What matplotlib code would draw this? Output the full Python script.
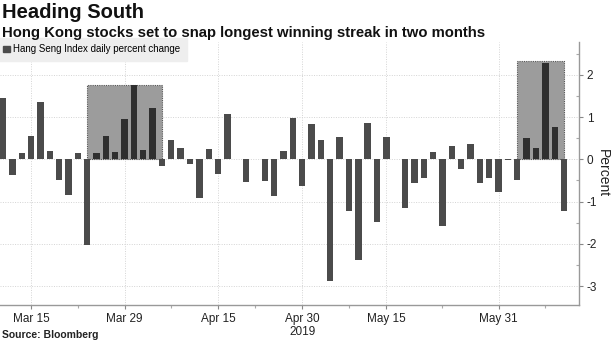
import numpy as np
import pandas as pd
import matplotlib
matplotlib.use("Agg")
import matplotlib.pyplot as plt
from matplotlib.patches import Rectangle

plt.rcParams['font.family'] = ['Liberation Sans', 'DejaVu Sans']

# HK trading days, 12 Mar - 12 Jun 2019
holidays = ['2019-04-05', '2019-04-19', '2019-04-22', '2019-05-01',
            '2019-05-13', '2019-06-07']
dates = pd.bdate_range('2019-03-12', '2019-06-12')
dates = dates[~dates.isin(pd.to_datetime(holidays))]

# daily percent change of the Hang Seng Index
changes = [1.45, -0.38, 0.16, 0.56, 1.37, 0.20, -0.48, -0.85, 0.14, -2.02,
           0.16, 0.56, 0.17, 0.96, 1.76, 0.22, 1.22, -0.16, 0.46, 0.26,
           -0.12, -0.92, 0.24, -0.34, 1.07, 0.01, -0.53, 0.01, -0.52, -0.86,
           0.20, 0.97, -0.64, 0.83, 0.45, -2.89, 0.53, -1.22, -2.38, 0.85,
           -1.49, 0.53, 0.02, -1.16, -0.56, -0.45, 0.18, -1.58, 0.32, -0.24,
           0.37, -0.56, -0.43, -0.78, -0.01, -0.48, 0.50, 0.26, 2.28, 0.77,
           -1.22]

# winning streaks that get a highlight box: (start, end, box top)
streaks = [('2019-03-25', '2019-04-04', 1.77),
           ('2019-06-04', '2019-06-12', 2.33)]

major_dates = ['2019-03-15', '2019-03-29', '2019-04-15', '2019-04-30',
               '2019-05-15', '2019-05-31']
major_labels = ['Mar 15', 'Mar 29', 'Apr 15', 'Apr 30\n2019', 'May 15', 'May 31']
minor_dates = ['2019-03-22', '2019-04-08', '2019-04-23', '2019-05-08',
               '2019-05-23', '2019-06-10']

x = np.arange(len(dates))
vals = np.array(changes)


def pos(d):
    return dates.get_loc(pd.Timestamp(d))


fig = plt.figure(figsize=(6.13, 3.44), dpi=100)
ax = fig.add_axes([0, 1 - 305 / 344, 579 / 613, (305 - 42) / 344])

colors = np.array(['#4b4b4b'] * len(x), dtype=object)
for s, e, top in streaks:
    i0, i1 = pos(s), pos(e)
    colors[i0 + 1:i1] = '#2f2f2f'
    ax.add_patch(Rectangle((i0, 0), i1 - i0, top, facecolor='#9c9c9c',
                           edgecolor='#555555', linestyle=(0, (1, 1)),
                           linewidth=0.8, zorder=2))

ax.bar(x, vals, width=0.68, color=list(colors), zorder=3,
       label='Hang Seng Index daily percent change')

ax.set_xlim(-0.32, 61.6)
ax.set_ylim(-3.45, 2.78)

ax.yaxis.tick_right()
ax.yaxis.set_label_position('right')
ax.set_yticks([2, 1, 0, -1, -2, -3])
ax.set_yticklabels(['2', '1', '0', '-1', '-2', '-3'])
ax.set_yticks(np.arange(-3, 3, 0.5), minor=True)
ax.set_ylabel('Percent', rotation=270, fontsize=10, color='#222222',
              labelpad=9)

ax.set_xticks([pos(d) for d in major_dates])
ax.set_xticklabels(major_labels)
ax.set_xticks([pos(d) for d in minor_dates], minor=True)

ax.tick_params(axis='both', which='major', labelsize=8.5, colors='#888888',
               labelcolor='#222222', length=3, width=0.8, pad=2.5)
ax.tick_params(axis='both', which='minor', colors='#aaaaaa', length=2,
               width=0.8)
ax.tick_params(axis='y', which='minor', direction='in')

ax.grid(True, which='major', color='#d4d4d4', linestyle=(0, (1, 1.5)),
        linewidth=0.7, zorder=0)
ax.set_axisbelow(True)

for side in ['top', 'left']:
    ax.spines[side].set_visible(False)
for side in ['right', 'bottom']:
    ax.spines[side].set_color('#999999')
    ax.spines[side].set_linewidth(1)

leg = ax.legend(loc='upper left', bbox_to_anchor=(-0.005, 1.015),
                fontsize=7, frameon=True, fancybox=False,
                handlelength=0.7, handleheight=0.7, handletextpad=0.3,
                borderpad=0.65, borderaxespad=0)
leg.get_frame().set_facecolor('#eeeeee')
leg.get_frame().set_edgecolor('#eeeeee')
leg.get_frame().set_alpha(1)
leg.legend_handles[0].set_color('#4b4b4b')

fig.text(0.004, 0.99, 'Heading South', fontsize=14.5, fontweight='bold',
         va='top', ha='left', color='#111111')
fig.text(0.004, 0.925, 'Hong Kong stocks set to snap longest winning streak in two months',
         fontsize=10.7, fontweight='bold', va='top', ha='left', color='#111111')
fig.text(0.004, 0.012, 'Source: Bloomberg', fontsize=7.5, fontweight='bold',
         va='bottom', ha='left', color='#222222')

fig.savefig('out.png', dpi=100)
